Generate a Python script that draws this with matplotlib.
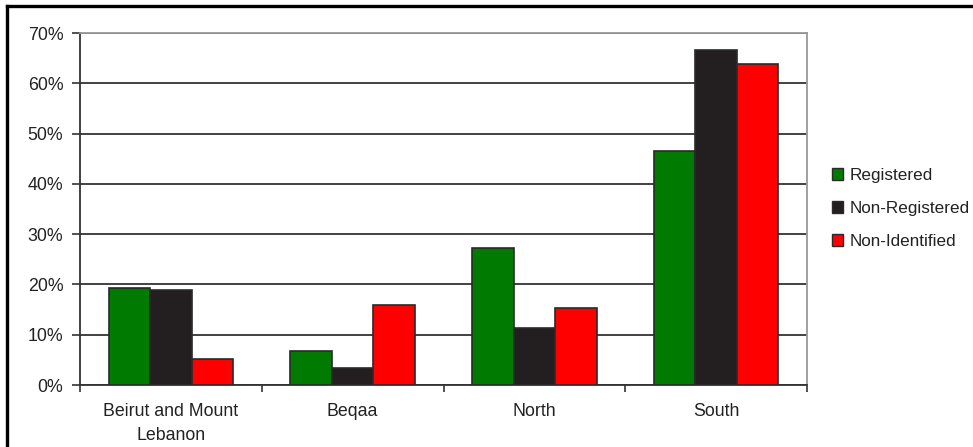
import numpy as np
import matplotlib.pyplot as plt
from matplotlib.lines import Line2D
from matplotlib.patches import Patch

plt.rcParams['font.family'] = ['Liberation Sans', 'DejaVu Sans']

regions = ["Beirut and Mount\nLebanon", "Beqaa", "North", "South"]
registered = [19.3, 6.8, 27.2, 46.6]
non_registered = [18.9, 3.4, 11.3, 66.6]
non_identified = [5.1, 16.0, 15.4, 63.8]

series = [("Registered", registered, "#007a00"),
          ("Non-Registered", non_registered, "#231f20"),
          ("Non-Identified", non_identified, "#ff0000")]

fig = plt.figure(figsize=(9.73, 4.47), dpi=100)
ax = fig.add_axes([80 / 973, 1 - 385 / 447, 727 / 973, 352 / 447])

x = np.arange(len(regions))
width = 0.228
for i, (name, vals, col) in enumerate(series):
    ax.bar(x + (i - 1) * width, vals, width, color=col, edgecolor="#2a2a2a",
           linewidth=1.2, label=name, zorder=3)

ax.set_xlim(-0.5, 3.5)
ax.set_ylim(0, 70)
ax.set_yticks(np.arange(0, 71, 10))
ax.set_yticklabels([f"{v}%" for v in range(0, 71, 10)])
ax.yaxis.grid(True, color="#333333", linewidth=1.3, zorder=0)

# category labels centred, tick marks at the boundaries
ax.set_xticks(x)
ax.set_xticklabels(regions, linespacing=1.55)
ax.tick_params(axis="x", length=0, pad=13, labelsize=12.8, labelcolor="#222222")
ax.set_xticks(np.arange(-0.5, 3.6, 1), minor=True)
ax.tick_params(axis="x", which="minor", length=5, width=1.2, color="#333333")
ax.tick_params(axis="y", length=6, width=1.2, color="#333333", pad=6,
               labelsize=12.8, labelcolor="#222222")

for side in ["top", "right"]:
    ax.spines[side].set_color("#999999")
    ax.spines[side].set_linewidth(1.3)
for side in ["left", "bottom"]:
    ax.spines[side].set_color("#333333")
    ax.spines[side].set_linewidth(1.3)

handles = [Patch(facecolor=c, edgecolor="#2a2a2a", linewidth=1) for _, _, c in series]
fig.legend(handles, [s[0] for s in series], loc="center left",
           bbox_to_anchor=(832 / 973, 1 - 208.5 / 447), frameon=False,
           borderpad=0, borderaxespad=0,
           fontsize=12.3, handlelength=0.65, handleheight=0.65,
           handletextpad=0.4, labelspacing=1.05, labelcolor="#222222")

# frame along the top and left of the image
fig.add_artist(Line2D([7 / 973, 1], [1 - 6 / 447, 1 - 6 / 447], color="black",
                      linewidth=2.4, transform=fig.transFigure))
fig.add_artist(Line2D([7 / 973, 7 / 973], [0, 1 - 6 / 447], color="black",
                      linewidth=2.4, transform=fig.transFigure))

fig.savefig("out.png", dpi=100)
